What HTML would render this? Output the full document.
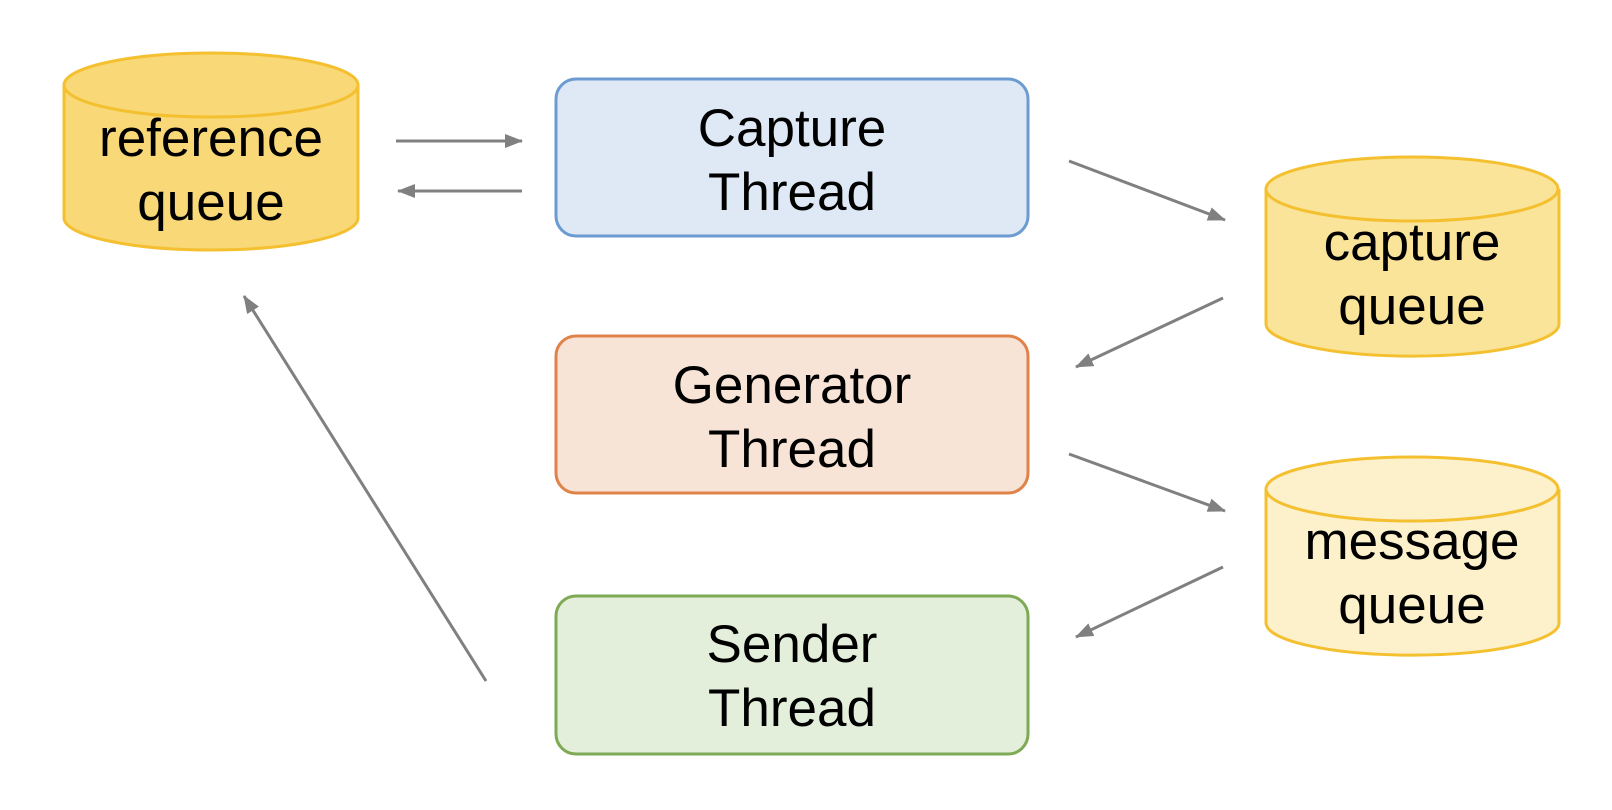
<!DOCTYPE html>
<html><head><style>body{margin:0;background:#fff}svg{display:block}</style></head><body>
<svg width="1612" height="810" viewBox="0 0 1612 810" xmlns="http://www.w3.org/2000/svg" font-family="'Liberation Sans',sans-serif" font-size="53" text-anchor="middle">
<defs><marker id="a" markerWidth="18" markerHeight="14" refX="17" refY="7" orient="auto" markerUnits="userSpaceOnUse" viewBox="0 0 18 14"><path d="M0,0 L18,7 L0,14 z" fill="#808080"/></marker></defs>
<g stroke-width="3">
<path d="M64,85 V218 A147,32 0 0 0 358,218 V85" fill="#f8d877" stroke="#f4c030"/>
<ellipse cx="211" cy="85" rx="147" ry="32" fill="#f8d877" stroke="#f4c030"/>
<path d="M1266,189 V324 A146,32 0 0 0 1559,324 V189" fill="#fae49a" stroke="#f4c030"/>
<ellipse cx="1412" cy="189" rx="146" ry="32" fill="#fae49a" stroke="#f4c030"/>
<path d="M1266,489 V623 A146,32 0 0 0 1559,623 V489" fill="#fdf1cc" stroke="#f4c030"/>
<ellipse cx="1412" cy="489" rx="146" ry="32" fill="#fdf1cc" stroke="#f4c030"/>
<rect x="556" y="79" width="472" height="157" rx="20" fill="#dfe9f5" stroke="#6c9bd2"/>
<rect x="556" y="336" width="472" height="157" rx="20" fill="#f7e4d6" stroke="#e0834a"/>
<rect x="556" y="596" width="472" height="158" rx="20" fill="#e3efda" stroke="#7eaa55"/>
</g>
<g stroke="#808080" stroke-width="3" marker-end="url(#a)">
<line x1="396" y1="141" x2="522" y2="141"/>
<line x1="522" y1="191" x2="398" y2="191"/>
<line x1="1069" y1="161" x2="1225" y2="220"/>
<line x1="1223" y1="298" x2="1076" y2="367"/>
<line x1="1069" y1="454" x2="1225" y2="511"/>
<line x1="1223" y1="567" x2="1076" y2="637"/>
<line x1="486" y1="681" x2="244" y2="296"/>
</g>
<g fill="#000">
<text x="211" y="156">reference</text><text x="211" y="220">queue</text>
<text x="792" y="146">Capture</text><text x="792" y="210">Thread</text>
<text x="792" y="403">Generator</text><text x="792" y="467">Thread</text>
<text x="792" y="662">Sender</text><text x="792" y="726">Thread</text>
<text x="1412" y="260">capture</text><text x="1412" y="324">queue</text>
<text x="1412" y="559">message</text><text x="1412" y="623">queue</text>
</g>
</svg>
</body></html>
